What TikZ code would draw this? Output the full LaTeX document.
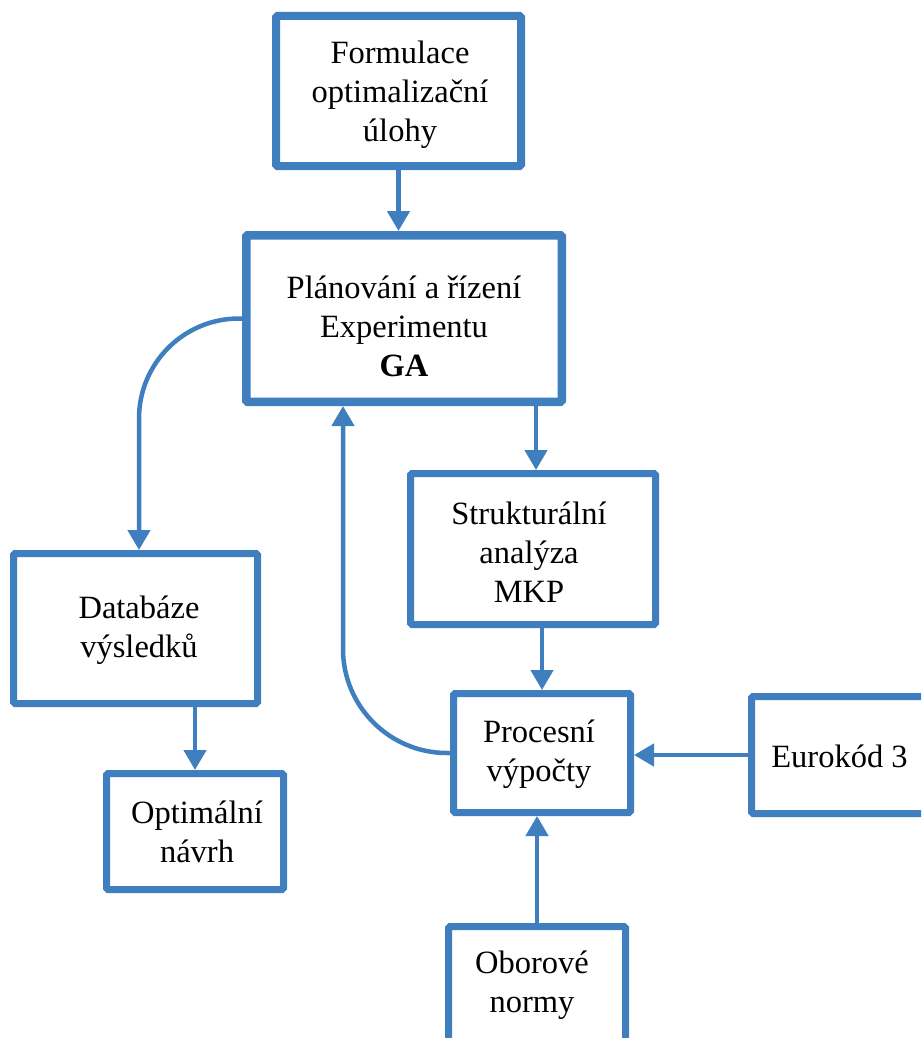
\documentclass[tikz,border=0pt]{standalone}
\usepackage{fontspec}
\setmainfont{Liberation Serif}
\usetikzlibrary{arrows.meta,calc}
\definecolor{fblue}{RGB}{63,126,191}
\newcommand\mlines[1]{\vtop{\baselineskip=39pt\lineskiplimit=-100pt\halign{\hfil##\hfil\cr#1\crcr}}}
\begin{document}
\begin{tikzpicture}[x=1pt,y=-1pt,
  box/.style={draw=fblue, line width=7pt, rounded corners=1.5pt, inner sep=0pt},
  conn/.style={draw=fblue, line width=4.5pt, -{Triangle[width=22pt,length=20pt]}},
  txt/.style={anchor=base, inner sep=0pt, font=\fontsize{32.5}{39}\selectfont}]
\useasboundingbox (0,0) rectangle (921,1038);
\clip (0,0) rectangle (921,1038);
\fill[white] (0,0) rectangle (921,1038);
% boxes
\node[box, line width=8pt, minimum width=245pt, minimum height=150pt] (form) at (398.5,91) {};
\node[box, line width=8.5pt, minimum width=315.5pt, minimum height=166.5pt] (plan) at (404,318.5) {};
\node[box, minimum width=245pt, minimum height=151pt] (struct) at (533,549) {};
\node[box, minimum width=177pt, minimum height=119pt] (proc) at (542,753) {};
\node[box, minimum width=180pt, minimum height=117pt] (euro) at (841.5,755) {};
\node[box, minimum width=177pt, minimum height=140pt] (obor) at (537,996.5) {};
\node[box, minimum width=244pt, minimum height=150pt] (dbase) at (135.5,628.5) {};
\node[box, minimum width=177pt, minimum height=116pt] (optim) at (195,831.5) {};
% texts
\node[txt] (formt) at (400,64) {\mlines{Formulace\cr optimalizační\cr úlohy}};
\node[txt] (plant) at (404,298) {\mlines{Plánování a řízení\cr Experimentu\cr \textbf{GA}}};
\node[txt] (structt) at (529,524) {\mlines{Strukturální\cr analýza\cr MKP}};
\node[txt] (proct) at (539,742) {\mlines{Procesní\cr výpočty}};
\node[txt] (eurot) at (839.5,767) {Eurokód 3};
\node[txt] (obort) at (532,973) {\mlines{Oborové\cr normy}};
\node[txt] (dbaset) at (139,618) {\mlines{Databáze\cr výsledků}};
\node[txt] (optimt) at (197,823) {\mlines{Optimální\cr návrh}};
% connectors
\coordinate (sa) at ([xshift=3pt]struct.north);
\coordinate (da) at ([xshift=3.5pt]dbase.north);
\coordinate (pb) at ([xshift=-61pt]plan.south);
\draw[conn] (form.south) -- (form.south |- plan.north);
\draw[conn] (sa |- plan.south) -- (sa);
\draw[conn] (proc.north |- struct.south) -- (proc.north);
\draw[conn] (euro.west) -- (euro.west -| proc.east);
\draw[conn] (obor.north) -- (obor.north |- proc.south);
\draw[conn] (optim.north |- dbase.south) -- (optim.north);
\draw[conn, rounded corners=100pt] (plan.west) -| (da);
\draw[conn, rounded corners=104pt] (proc.west) -| (pb);
\end{tikzpicture}
\end{document}
